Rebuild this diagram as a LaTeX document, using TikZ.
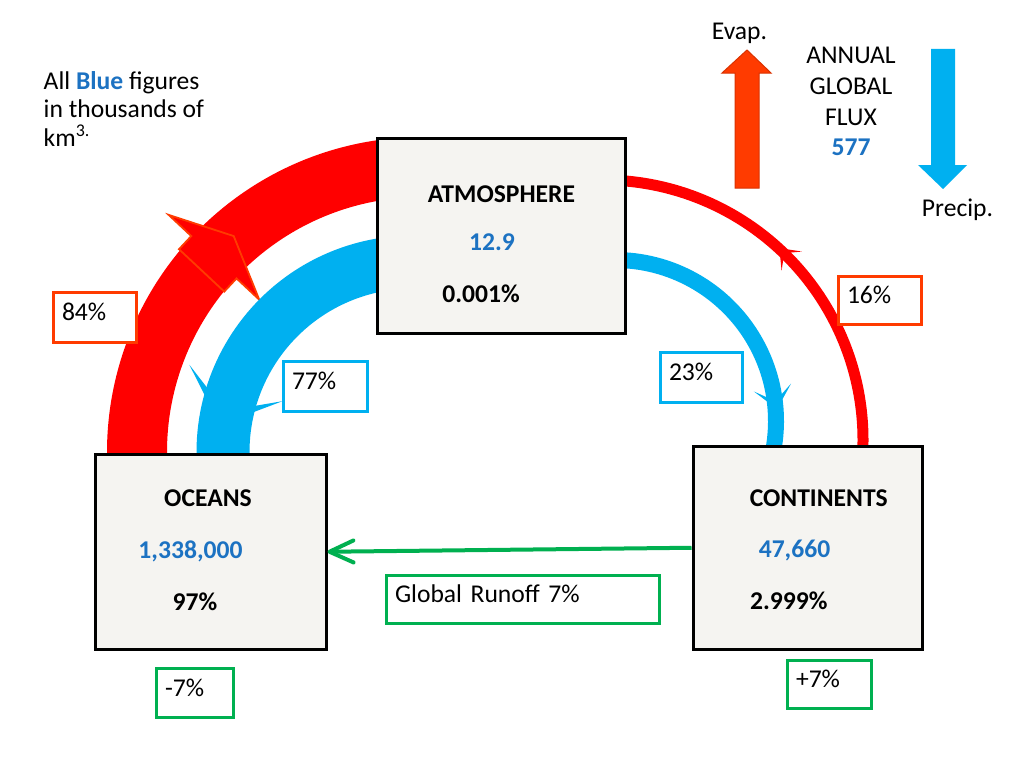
\documentclass[tikz,border=0pt]{standalone}
\usepackage{fontspec}
\setmainfont{Carlito}
\usetikzlibrary{arrows.meta,decorations.markings}
\definecolor{tblue}{RGB}{28,114,194}
\definecolor{cyanb}{HTML}{00B0F0}
\definecolor{redc}{HTML}{FF0000}
\definecolor{orng}{HTML}{FF3B00}
\definecolor{grn}{HTML}{00B050}
\definecolor{boxfill}{RGB}{245,244,241}
\begin{document}
\begin{tikzpicture}[x=1pt,y=-1pt,
  every node/.style={inner sep=0pt,font=\fontsize{25.6}{28.3}\selectfont},
  bold/.style={font=\fontsize{25.6}{28.3}\selectfont\bfseries},
  mainbox/.style={draw=black,line width=3pt,fill=boxfill,anchor=north west},
  lbox/.style={line width=3pt,fill=white,anchor=north west,inner xsep=9pt,inner ysep=0pt,
    text height=16.5pt,text depth=9.5pt,align=left},
  redbox/.style={lbox,draw=orng},
  bluebox/.style={lbox,draw=cyanb},
  greenbox/.style={lbox,draw=grn},
  band/.style={line cap=butt},
]
\fill[white] (0,0) rectangle (1024,768);
\useasboundingbox (0,0) rectangle (1024,768);

% arc centres
\coordinate (cRL) at (422,452);
\coordinate (cBL) at (413,452);
\coordinate (cBR) at (615,421);
\coordinate (cRR) at (603,440);

% left red band (evaporation from oceans)
\draw[band,redc,line width=60pt,postaction={decorate,decoration={markings,
  mark=at position 0.408 with {\draw[orng,line width=1.8pt,fill=redc,line join=miter]
   (-18pt,31pt) -- (0pt,31pt) -- (0pt,62pt) -- (29pt,0pt) -- (0pt,-62pt) -- (0pt,-31pt) -- (-18pt,-31pt) -- cycle;}}}]
  ([shift={(cRL)}]-183:285) arc[start angle=-183,end angle=-70,radius=285];

% left blue band (precipitation over oceans)
\draw[band,cyanb,line width=53pt,postaction={decorate,decoration={markings,
  mark=at position 0.785 with {\fill[cyanb] (45pt,0pt) -- (0pt,50pt) -- (30pt,0pt) -- (0pt,-50pt) -- cycle;}}}]
  ([shift={(cBL)}]-70:190) arc[start angle=-70,end angle=-183,radius=190];

% right blue band (precipitation over continents)
\draw[band,cyanb,line width=16pt,postaction={decorate,decoration={markings,
  mark=at position 0.8 with {\fill[cyanb] (22pt,0pt) -- (0pt,19pt) -- (14pt,0pt) -- (0pt,-19pt) -- cycle;}}}]
  ([shift={(cBR)}]-100:161) arc[start angle=-100,end angle=10,radius=161];

% right red band (evaporation from continents)
\draw[band,redc,line width=11pt,postaction={decorate,decoration={markings,
  mark=at position 0.451 with {\fill[redc] (18pt,0pt) -- (0pt,14pt) -- (11pt,0pt) -- (0pt,-14pt) -- cycle;}}}]
  ([shift={(cRR)}]3:260) arc[start angle=3,end angle=-100,radius=260];

% percentage boxes
\node[redbox,text width=65pt,minimum height=50pt] (p84) at (51.5,290.5) {84\%};
\node[bluebox,text width=66pt,minimum height=50pt] (p77) at (281.5,359.5) {77\%};
\node[bluebox,text width=64pt,minimum height=50pt] (p23) at (658.5,350.5) {23\%};
\node[redbox,text width=65pt,minimum height=48pt] (p16) at (836.5,274.5) {16\%};
\node[greenbox,text width=255pt,minimum height=48pt] (runoff) at (384.5,573.5) {Global Runoff 7\%};
\node[greenbox,text width=59pt,minimum height=49pt] (m7) at (154.5,666.5) {-7\%};
\node[greenbox,text width=66pt,minimum height=48pt] (p7) at (785.5,658.5) {+7\%};

% reservoirs
\node[mainbox,minimum width=248pt,minimum height=195pt] (atm) at (375.5,136.5) {};
\node[mainbox,minimum width=230.5pt,minimum height=195.5pt] (oce) at (94,452.5) {};
\node[mainbox,minimum width=229pt,minimum height=203.5pt] (con) at (691.5,444.5) {};

\node[bold,anchor=base] (atmT) at (501.5,202.7) {ATMOSPHERE};
\node[bold,anchor=base,text=tblue] (atmV) at (492,250) {12.9};
\node[bold,anchor=base] (atmP) at (481,302.7) {0.001\%};

\node[bold,anchor=base] (oceT) at (208,506.7) {OCEANS};
\node[bold,anchor=base,text=tblue] (oceV) at (190.5,558.3) {1,338,000};
\node[bold,anchor=base] (oceP) at (195,610) {97\%};

\node[bold,anchor=base] (conT) at (818.7,506.7) {CONTINENTS};
\node[bold,anchor=base,text=tblue] (conV) at (794.5,557.7) {47,660};
\node[bold,anchor=base] (conP) at (788.8,609.3) {2.999\%};

% runoff arrow
\draw[grn,line width=4pt,-{Straight Barb[length=24pt,width=22pt,round]}] (con.west) -- (oce.east);

% note
\node[anchor=base west] (note1) at (43.5,89.3) {All \textbf{\textcolor{tblue}{Blue}} figures};
\node[anchor=base west] (note2) at (43.5,117.3) {in thousands of};
\node[anchor=base west] (note3) at (43.5,146) {km\textsuperscript{3.}};

% annual flux legend
\fill[orng,draw=orng!85!black,line width=1pt] (735,188) -- (735,73) -- (722,73) -- (747,50) -- (771,73) -- (759,73) -- (759,188) -- cycle;
\fill[cyanb] (931,49) -- (955,49) -- (955,165) -- (967,165) -- (943,189) -- (918,165) -- (931,165) -- cycle;
\node[anchor=base] (evap) at (739.5,39.3) {Evap.};
\node[anchor=base] (precip) at (957.5,216) {Precip.};
\node[anchor=base] (ann1) at (851,63.3) {ANNUAL};
\node[anchor=base] (ann2) at (851,94) {GLOBAL};
\node[anchor=base] (ann3) at (851,125) {FLUX};
\node[bold,anchor=base,text=tblue] (ann4) at (851,155) {577};
\end{tikzpicture}
\end{document}
